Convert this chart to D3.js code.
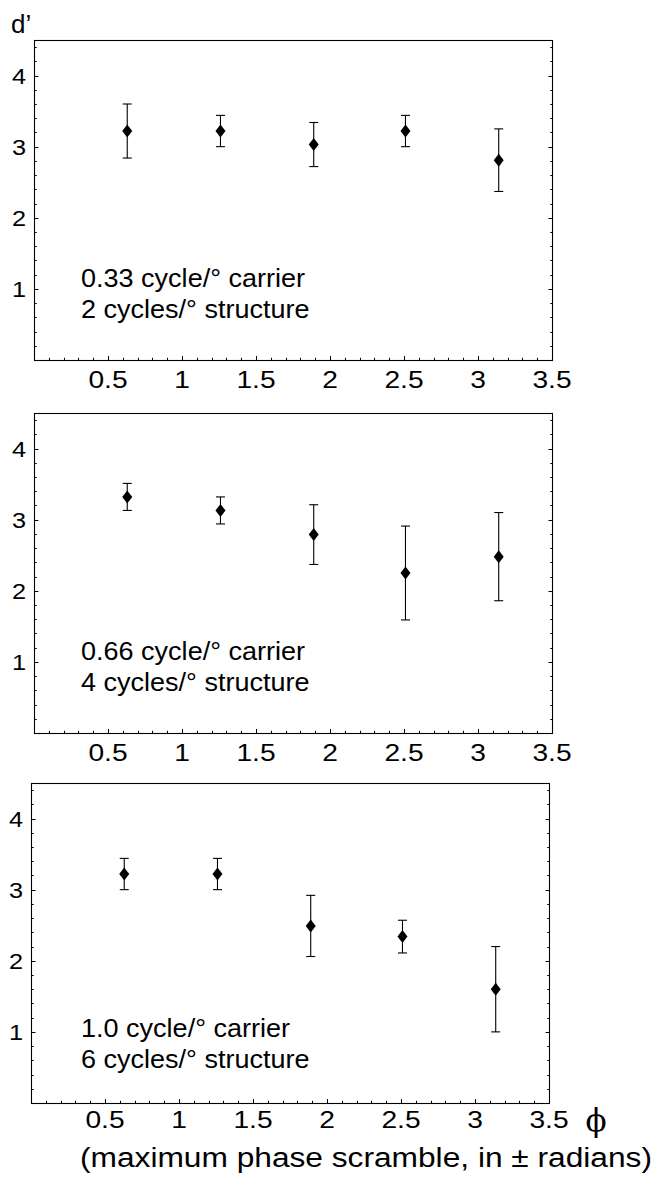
<!DOCTYPE html>
<html>
<head>
<meta charset="utf-8">
<script src="https://cdn.jsdelivr.net/npm/d3@7"></script>
<style>
    body { margin: 0; background: #fff; }
    svg { display: block; }
    text { font-family: "Liberation Sans", Arial, sans-serif; fill: #000; }
</style>
</head>
<body>
<svg id="chart" width="655" height="1180"></svg>
<script>
"use strict";

// maximum phase scramble (x) for every panel
const phase = [0.63, 1.26, 1.89, 2.51, 3.14];

// d' and error bar half lengths, one pair of arrays per panel
const dPrimeTop = [3.22, 3.22, 3.03, 3.22, 2.81];
const errTop = [0.38, 0.22, 0.31, 0.22, 0.44];

const dPrimeMid = [3.32, 3.13, 2.79, 2.25, 2.48];
const errMid = [0.19, 0.19, 0.42, 0.66, 0.62];

const dPrimeBottom = [3.22, 3.22, 2.49, 2.34, 1.60];
const errBottom = [0.22, 0.22, 0.43, 0.23, 0.60];

const carrierLabels = ["0.33 cycle/° carrier", "0.66 cycle/° carrier", "1.0 cycle/° carrier"];
const structureLabels = ["2 cycles/° structure", "4 cycles/° structure", "6 cycles/° structure"];

const xTickLabels = [0.5, 1, 1.5, 2, 2.5, 3, 3.5];
const yTickLabels = [1, 2, 3, 4];

const xDomain = [0, 3.5];
const yDomain = [0, 4.5];

// panel boxes (pixels) and where their texts sit
const panels = [
    {values: dPrimeTop, errs: errTop, left: 34, right: 552, top: 40, bottom: 360, labelY: 287, tickGap: 28},
    {values: dPrimeMid, errs: errMid, left: 34, right: 552, top: 413, bottom: 733, labelY: 660, tickGap: 28},
    {values: dPrimeBottom, errs: errBottom, left: 31, right: 549, top: 783, bottom: 1103, labelY: 1037, tickGap: 25}
];

const svg = d3.select("#chart");

function drawPanel(p, i) {
    const x = d3.scaleLinear().domain(xDomain).range([p.left, p.right]);
    const y = d3.scaleLinear().domain(yDomain).range([p.bottom, p.top]);
    const g = svg.append("g").attr("class", "panel");

    // frame
    g.append("rect")
        .attr("x", p.left + 0.5).attr("y", p.top + 0.5)
        .attr("width", p.right - p.left).attr("height", p.bottom - p.top)
        .attr("fill", "none").attr("stroke", "#000").attr("stroke-width", 1.1);

    // x ticks, every 0.1, major every 0.5 (bottom only)
    const xt = d3.range(1, 35).map(k => k / 10);
    g.selectAll(".xtick").data(xt).enter().append("line")
        .attr("class", "xtick")
        .attr("x1", d => Math.round(x(d)) + 0.5).attr("x2", d => Math.round(x(d)) + 0.5)
        .attr("y1", p.bottom)
        .attr("y2", (d, k) => p.bottom - ((k + 1) % 5 === 0 ? 4 : 2.2))
        .attr("stroke", "#000").attr("stroke-width", 1);

    // y ticks, every 0.2, major every 1 (left and right)
    const yt = d3.range(1, 23).map(k => k / 5);
    for (const side of ["left", "right"]) {
        const x0 = side === "left" ? p.left + 0.5 : p.right + 0.5;
        const dir = side === "left" ? 1 : -1;
        g.selectAll(".ytick-" + side).data(yt).enter().append("line")
            .attr("class", "ytick-" + side)
            .attr("x1", x0)
            .attr("x2", (d, k) => x0 + dir * ((k + 1) % 5 === 0 ? 4 : 2.2))
            .attr("y1", d => Math.round(y(d)) + 0.5).attr("y2", d => Math.round(y(d)) + 0.5)
            .attr("stroke", "#000").attr("stroke-width", 1);
    }

    // tick labels
    g.selectAll(".xlab").data(xTickLabels).enter().append("text")
        .attr("class", "xlab")
        .attr("transform", d => `translate(${x(d)},${p.bottom + p.tickGap}) scale(1.15,1)`)
        .attr("text-anchor", "middle")
        .style("font-size", "24.5px")
        .text(d => d);

    g.selectAll(".ylab").data(yTickLabels).enter().append("text")
        .attr("class", "ylab")
        .attr("transform", d => `translate(${p.left - 8},${y(d) + 8}) scale(1.15,1)`)
        .attr("text-anchor", "end")
        .style("font-size", "22px")
        .text(d => d);

    // error bars
    const pts = phase.map((ph, k) => ({x: ph, v: p.values[k], e: p.errs[k]}));
    const bars = g.selectAll(".bar").data(pts).enter().append("g").attr("class", "bar");
    bars.append("line")
        .attr("x1", d => x(d.x)).attr("x2", d => x(d.x))
        .attr("y1", d => y(d.v - d.e)).attr("y2", d => y(d.v + d.e))
        .attr("stroke", "#000").attr("stroke-width", 1.1);
    for (const s of [-1, 1]) {
        bars.append("line")
            .attr("x1", d => x(d.x) - 4.5).attr("x2", d => x(d.x) + 4.5)
            .attr("y1", d => y(d.v + s * d.e)).attr("y2", d => y(d.v + s * d.e))
            .attr("stroke", "#000").attr("stroke-width", 1.1);
    }

    // diamonds
    g.selectAll(".pt").data(pts).enter().append("path")
        .attr("class", "pt")
        .attr("d", d => {
            const cx = x(d.x), cy = y(d.v);
            return `M${cx},${cy - 6.5}L${cx + 5},${cy}L${cx},${cy + 6.5}L${cx - 5},${cy}Z`;
        })
        .attr("fill", "#000");

    // panel label
    const lab = g.append("g").attr("transform", `translate(81,${p.labelY}) scale(1.06,1)`);
    lab.append("text").style("font-size", "25.5px").text(carrierLabels[i]);
    lab.append("text").attr("y", 31).style("font-size", "25.5px").text(structureLabels[i]);
}

panels.forEach(drawPanel);

// y axis title
svg.append("text")
    .attr("x", 11).attr("y", 33)
    .style("font-size", "26px")
    .text("d’");

// x axis title
svg.append("text")
    .attr("x", 596).attr("y", 1131)
    .attr("text-anchor", "middle")
    .style("font-family", "'DejaVu Serif', 'Liberation Serif', serif")
    .style("font-size", "31px")
    .text("ϕ");

svg.append("text")
    .attr("x", 80).attr("y", 1167)
    .attr("textLength", 572).attr("lengthAdjust", "spacingAndGlyphs")
    .style("font-size", "27px")
    .text("(maximum phase scramble, in ± radians)");
</script>
</body>
</html>
